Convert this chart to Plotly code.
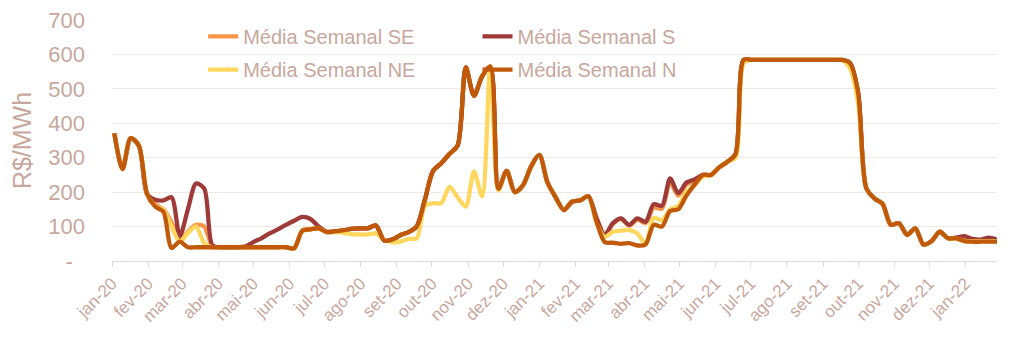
import pandas as pd
import plotly.graph_objects as go

# ---------------- data ----------------
dates = pd.date_range("2020-01-03", periods=109, freq="7D")

N = [371, 267, 357, 335, 195, 158, 143, 38, 56, 40,
     40, 40, 40, 40, 40, 40, 40, 40, 40, 40,
     40, 40, 37, 88, 92, 95, 84, 86, 89, 93,
     95, 95, 103, 60, 62, 75, 84, 100, 178, 262,
     284, 311, 335, 562, 480, 536, 565, 210, 262, 200,
     220, 275, 308, 228, 185, 148, 172, 176, 188, 115,
     55, 53, 50, 52, 45, 48, 105, 100, 145, 150,
     190, 222, 250, 250, 272, 288, 310, 584, 584, 584,
     584, 584, 584, 584, 584, 584, 584, 584, 584, 584,
     575, 490, 212, 182, 166, 105, 110, 76, 95, 48,
     58, 85, 66, 66, 58, 56, 56, 56, 56]

S = list(N)
S_over = {4: 195, 5: 178, 6: 176, 7: 185, 8: 72, 9: 150, 10: 225, 11: 210, 12: 45,
          16: 42, 17: 55, 18: 66, 19: 80, 20: 92, 21: 105, 22: 117, 23: 128, 24: 122,
          25: 100, 26: 85,
          59: 125, 60: 76, 61: 110, 62: 124, 63: 105, 64: 124, 65: 114, 66: 165,
          67: 160, 68: 240, 69: 197, 70: 228, 71: 237, 72: 250,
          103: 68, 104: 72, 105: 64, 106: 62, 107: 68, 108: 62}
for k, v in S_over.items():
    S[k] = v

SE = list(N)
SE_over = {5: 165, 6: 150, 7: 112, 8: 60, 9: 85, 10: 105, 11: 100, 12: 42,
           59: 122, 60: 76, 61: 108, 62: 122, 63: 103, 64: 120, 65: 110, 66: 155,
           67: 152, 68: 228, 69: 190, 70: 222, 71: 232, 72: 248,
           104: 60, 105: 60, 106: 60, 107: 60, 108: 60}
for k, v in SE_over.items():
    SE[k] = v

NE = list(N)
NE_over = {5: 160, 6: 148, 7: 100, 8: 56, 9: 81, 10: 100, 11: 52, 12: 40,
           26: 84, 27: 84, 28: 82, 29: 78, 30: 77, 31: 77, 32: 80, 33: 62, 34: 55,
           35: 56, 36: 64, 37: 66, 38: 160, 39: 168, 40: 168, 41: 215, 42: 185,
           43: 158, 44: 260, 45: 188, 46: 565, 47: 205,
           59: 110, 60: 70, 61: 85, 62: 88, 63: 90, 64: 80, 65: 50, 66: 125,
           67: 118, 68: 150, 69: 160, 70: 200, 71: 220, 72: 245,
           76: 300, 77: 575, 90: 560, 91: 460,
           104: 58, 105: 58, 106: 58, 107: 58, 108: 58}
for k, v in NE_over.items():
    NE[k] = v

series_names = ["Média Semanal SE", "Média Semanal S", "Média Semanal NE", "Média Semanal N"]
series_values = [SE, S, NE, N]
series_colors = ["#F79646", "#9E3A38", "#FFD75E", "#C05A0A"]

month_abbr = ["jan", "fev", "mar", "abr", "mai", "jun", "jul", "ago", "set", "out", "nov", "dez"]
tick_dates = pd.date_range("2020-01-01", "2022-01-01", freq="MS")
tick_text = [f"{month_abbr[d.month - 1]}-{str(d.year)[2:]}" for d in tick_dates]

y_vals = [0, 100, 200, 300, 400, 500, 600, 700]
y_text = ["-\u00a0\u00a0"] + [str(v) for v in y_vals[1:]]

# ---------------- figure ----------------
TXT = "#C8A79D"
GRID = "#F1E7E5"
FONT = "Liberation Sans, Arial, sans-serif"

fig = go.Figure()
legend_ids = ["legend", "legend2", "legend3", "legend4"]
for name, vals, col, lg in zip(series_names, series_values, series_colors, legend_ids):
    fig.add_trace(go.Scatter(
        x=dates, y=vals, name=name, mode="lines",
        line=dict(color=col, width=4.3, shape="spline", smoothing=0.8),
        legend=lg, hoverinfo="x+y+name",
    ))

x0 = 0.103
x1 = 0.413
yr1 = 0.932
yr2 = 0.794
leg_common = dict(font=dict(family=FONT, size=20, color=TXT), bgcolor="rgba(0,0,0,0)",
                  xanchor="left", yanchor="middle", borderwidth=0)

fig.update_layout(
    width=1024, height=364,
    showlegend=True,
    margin=dict(l=112, r=27, t=20, b=103, autoexpand=False),
    paper_bgcolor="white", plot_bgcolor="white",
    font=dict(family=FONT, color=TXT),
    legend=dict(x=x0, y=yr1, **leg_common),
    legend2=dict(x=x1, y=yr1, **leg_common),
    legend3=dict(x=x0, y=yr2, **leg_common),
    legend4=dict(x=x1, y=yr2, **leg_common),
    xaxis=dict(
        type="date",
        range=["2020-01-01", "2022-01-28"],
        tickvals=tick_dates, ticktext=tick_text,
        tickangle=-45,
        tickfont=dict(family=FONT, size=17, color=TXT),
        ticks="outside", ticklen=5, tickcolor="#E6D8D5",
        showline=True, linecolor="#E6D8D5", linewidth=1,
        showgrid=False, zeroline=False,
    ),
    yaxis=dict(
        range=[0, 700],
        tickvals=y_vals, ticktext=y_text,
        tickfont=dict(family=FONT, size=22, color=TXT),
        showgrid=True, gridcolor=GRID, gridwidth=1,
        zeroline=False, showline=False,
        ticks="", ticklabelstandoff=26,
        title=dict(text="R$/MWh", font=dict(family=FONT, size=25, color=TXT), standoff=9),
    ),
)

fig.write_html(
    "out.html",
    config={"displayModeBar": False},
    post_script="document.body.style.margin='0px';document.body.style.overflow='hidden';",
)
